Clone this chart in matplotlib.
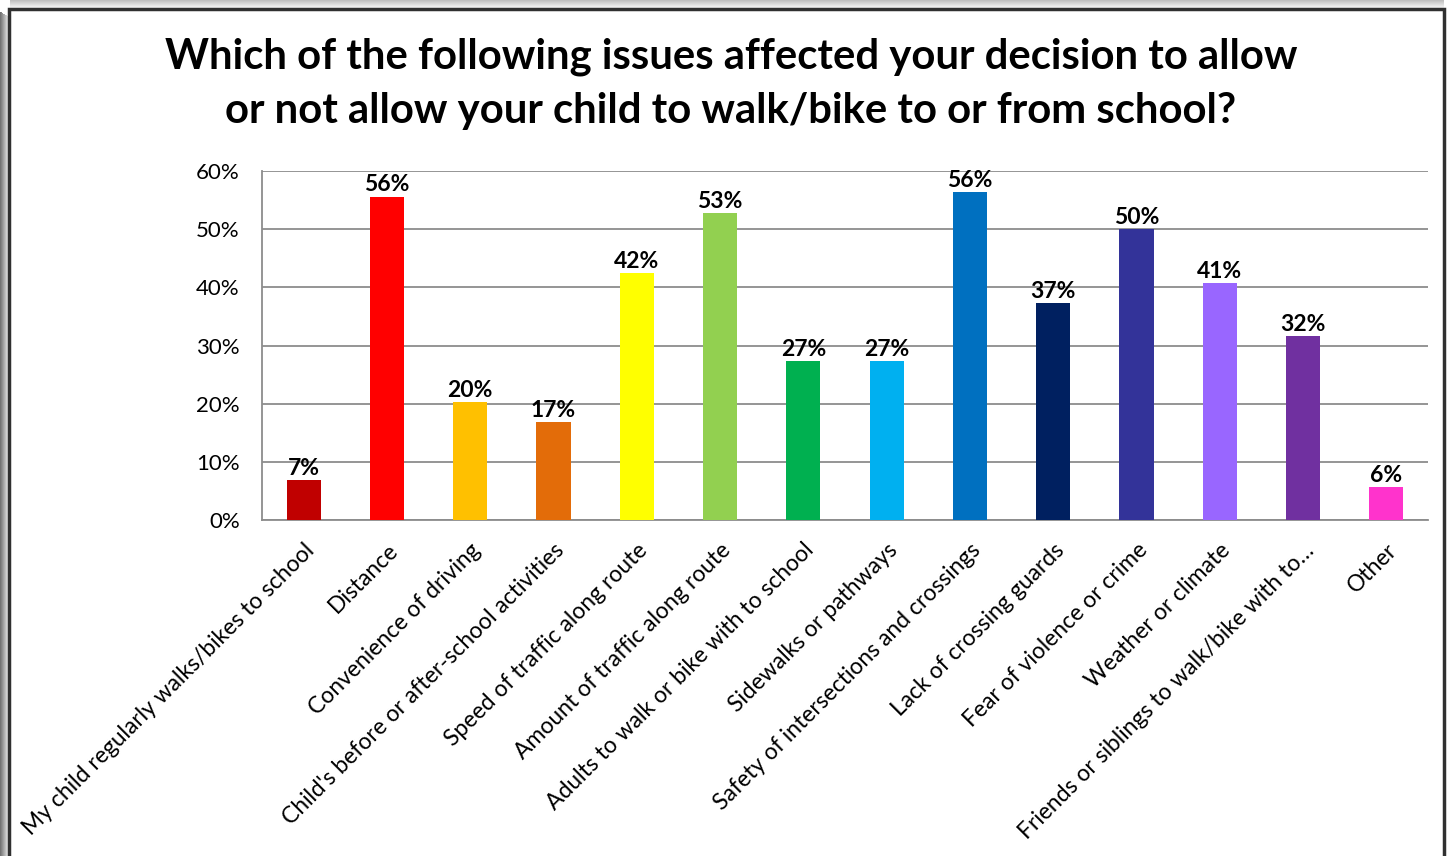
import matplotlib
matplotlib.use("Agg")
import matplotlib.pyplot as plt
from matplotlib.patches import Rectangle

plt.rcParams['font.family'] = ['Lato', 'DejaVu Sans']

categories = [
    "My child regularly walks/bikes to school",
    "Distance",
    "Convenience of driving",
    "Child's before or after-school activities",
    "Speed of traffic along route",
    "Amount of traffic along route",
    "Adults to walk or bike with to school",
    "Sidewalks or pathways",
    "Safety of intersections and crossings",
    "Lack of crossing guards",
    "Fear of violence or crime",
    "Weather or climate",
    "Friends or siblings to walk/bike with to\u2026",
    "Other",
]
shares = [0.069, 0.556, 0.203, 0.168, 0.425, 0.528, 0.273, 0.273,
          0.564, 0.373, 0.500, 0.407, 0.316, 0.056]
colors = ["#C00000", "#FF0000", "#FFC000", "#E36C09", "#FFFF00", "#92D050",
          "#00B050", "#00B0F0", "#0070C0", "#002060", "#333399", "#9966FF",
          "#7030A0", "#FF33CC"]
yticks = [0, 0.1, 0.2, 0.3, 0.4, 0.5, 0.6]
title = ("Which of the following issues affected your decision to allow\n"
         "or not allow your child to walk/bike to or from school?")

W, H = 1450, 856
fig = plt.figure(figsize=(W / 100, H / 100), dpi=100)

def px(x0, y0, w, h):
    """Pixel box (top-left origin) to figure fraction rectangle."""
    return (x0 / W, 1 - (y0 + h) / H, w / W, h / H)

# frame with a soft shadow on the left and top
for i in range(9):
    g = 0.45 + 0.06 * i
    x0, y0, w, h = px(i, 12 + i * 0.5, 1, H)
    fig.patches.append(Rectangle((x0, y0), w, h, transform=fig.transFigure,
                                 color=str(min(g, 1.0)), lw=0, zorder=0))
for i in range(8):
    g = 0.75 + 0.03 * i
    x0, y0, w, h = px(10, i, 1434, 1)
    fig.patches.append(Rectangle((x0, y0), w, h, transform=fig.transFigure,
                                 color=str(min(g, 1.0)), lw=0, zorder=0))
fx, fy, fw, fh = px(9, 9, 1435, 900)
fig.patches.append(Rectangle((fx, fy), fw, fh, transform=fig.transFigure,
                             facecolor="white", edgecolor="#303030", lw=2.5,
                             zorder=1))

ax = fig.add_axes(px(262, 171, 1166, 349))
ax.set_zorder(2)
x = list(range(len(categories)))
ax.bar(x, shares, width=0.41, color=colors, zorder=3)
for xi, v in zip(x, shares):
    ax.text(xi, v + 0.002, f"{v:.0%}", ha="center", va="bottom",
            fontsize=16.5, fontweight="bold", color="black", zorder=4)

ax.set_xlim(-0.5, len(categories) - 0.5)
ax.set_ylim(0, 0.6)
ax.set_yticks(yticks)
ax.set_yticklabels([f"{t:.0%}" for t in yticks], fontsize=16)
ax.set_xticks(x)
ax.set_xticklabels(categories, rotation=45, ha="right",
                   rotation_mode="anchor", fontsize=16.5)
ax.tick_params(axis="both", length=0)
ax.tick_params(axis="y", pad=16)
ax.tick_params(axis="x", pad=14)
ax.grid(axis="y", color="#8C8C8C", lw=1.3, zorder=0)
ax.set_axisbelow(True)
for s in ["top", "right"]:
    ax.spines[s].set_visible(False)
for s in ["left", "bottom"]:
    ax.spines[s].set_color("#8C8C8C")
    ax.spines[s].set_linewidth(1.3)
ax.patch.set_alpha(0)

fig.text(731 / W, 1 - 84 / H, title, ha="center", va="center",
         fontsize=30.2, fontweight="bold", linespacing=1.5, zorder=5)

fig.savefig("out.png", dpi=100)
